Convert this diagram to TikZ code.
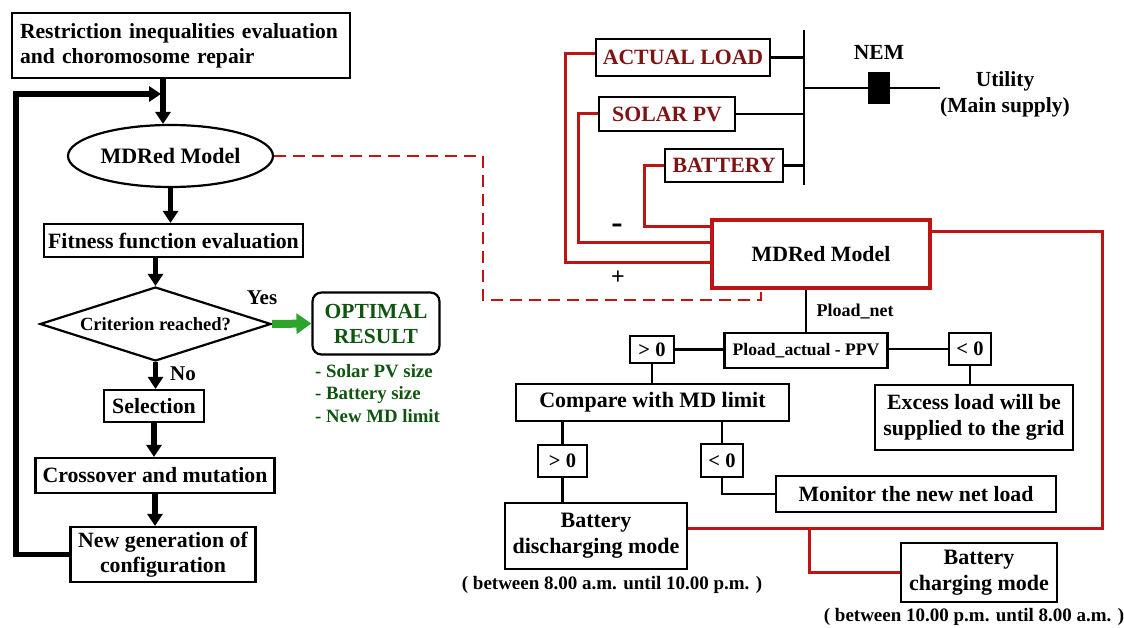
\documentclass[tikz,border=0pt]{standalone}
\usepackage{fontspec}
\setmainfont{Liberation Serif}
\usetikzlibrary{positioning, calc, arrows.meta, shapes.geometric}
\definecolor{mdred}{RGB}{190,20,20}
\definecolor{darkred}{RGB}{125,20,20}
\definecolor{optgreen}{RGB}{15,85,15}
\definecolor{arrgreen}{RGB}{45,165,45}
\newcommand{\fs}[2]{\bfseries\fontsize{#1}{#2}\selectfont}
\tikzset{box/.style={draw, line width=2.2pt, inner sep=2pt, align=center, font=\fs{21.8}{25}}}
\tikzset{redbox/.style={box, text=darkred}}
\tikzset{tag/.style={box, line width=2.4pt, font=\fs{20.5}{23}}}
\tikzset{flow/.style={line width=5.5pt, -{Triangle[length=12pt, width=15pt]}}}
\tikzset{garrow/.style={draw=arrgreen, line width=8pt, -{Triangle[length=15pt, width=20pt]}}}
\tikzset{wire/.style={line width=2.2pt}}
\tikzset{rline/.style={draw=mdred, line width=3pt}}
\tikzset{dline/.style={draw=mdred, line width=2.4pt, dash pattern=on 12pt off 7pt}}
\tikzset{note/.style={font=\fs{19}{22}}}

\begin{document}
\begin{tikzpicture}[x=1pt, y=-1pt]
  \useasboundingbox (0,0) rectangle (1124,628);

  \node[box, align=left, text width=322pt, inner xsep=8pt, minimum height=65pt, font=\fs{21.6}{25}] (rep) at (181,45.5)
    {Restriction inequalities evaluation\\and choromosome repair};
  \node[box, ellipse, minimum width=205pt, minimum height=62pt, inner sep=0pt, font=\fs{22}{25}] (mdl) at (170.5,156) {MDRed Model};
  \node[box, minimum width=259pt, minimum height=33pt] (fit) at (173.5,240.5) {Fitness function evaluation};
  \node[box, diamond, aspect=3.1, minimum width=231pt, minimum height=74pt, inner sep=0pt,
        font=\fs{18.6}{21}] (crit) at (155.5,324) {Criterion reached?};
  \node[box, rounded corners=9pt, text=optgreen, minimum width=127pt, minimum height=62pt,
        font=\fs{21.5}{25}] (opt) at (376,323.5) {OPTIMAL\\RESULT};
  \node[text=optgreen, align=left, anchor=north west, inner sep=0pt,
        font=\fs{18.8}{22.5}] (res) at (315,364)
    {- Solar PV size\\- Battery size\\- New MD limit};
  \node[box, minimum width=100pt, minimum height=32pt] (sel) at (154,406) {Selection};
  \node[box, minimum width=239pt, minimum height=35pt] (cro) at (155,475.5) {Crossover and mutation};
  \node[box, minimum width=185pt, minimum height=55pt] (gen) at (163,554.5) {New generation of\\configuration};
  \node[note, font=\fs{21}{24}] (yes) at (262,298) {Yes};
  \node[note, font=\fs{21}{24}] (no) at (183,374) {No};

  \coordinate (lp) at (16,94);
  \coordinate (jn) at (163,94);
  \draw[flow] (gen.west) -| (lp) -- ([xshift=-2pt]jn);
  \draw[flow] (jn |- rep.south) -- (jn |- mdl.north);
  \draw[flow] (mdl.south) -- (mdl.south |- fit.north);
  \draw[flow] (crit.north |- fit.south) -- (crit.north);
  \draw[flow] (crit.south) -- (crit.south |- sel.north);
  \draw[flow] (sel.south) -- (sel.south |- cro.north);
  \draw[flow] (cro.south) -- (cro.south |- gen.north);
  \draw[garrow] (crit.east) -- (opt.west);

  \node[redbox, minimum width=174pt, minimum height=37pt] (load) at (683,57.5) {ACTUAL LOAD};
  \node[redbox, minimum width=136pt, minimum height=34pt] (pv) at (667,114) {SOLAR PV};
  \node[redbox, minimum width=118pt, minimum height=33pt] (bat) at (724,165.5) {BATTERY};
  \node[draw, fill=black, minimum width=21pt, minimum height=31pt, inner sep=0pt] (nem) at (879,88) {};
  \node[note, font=\fs{21.5}{24}] (neml) at (879,52) {NEM};
  \node[note, align=center, font=\fs{21.5}{26}] (util) at (1005,94) {Utility\\(Main supply)};
  \node[box, draw=mdred, line width=3.5pt, minimum width=218pt, minimum height=68pt] (md) at (821,254) {MDRed Model};
  \node[note, font=\fs{34}{34}] (minus) at (617,229) {-};
  \node[note, font=\fs{24}{24}] (plus) at (618,278) {+};

  \coordinate (bt) at (804,30);
  \coordinate (bb) at (804,185);
  \coordinate (ut) at (940,88);
  \draw[wire] (bt) -- (bb);
  \draw[wire] (load.east) -- (load.east -| bt);
  \draw[wire] (pv.east) -- (pv.east -| bt);
  \draw[wire] (bat.east) -- (bat.east -| bt);
  \draw[wire] (nem.west -| bt) -- (nem.west);
  \draw[wire] (nem.east) -- (ut);

  \draw[rline] ([yshift=4pt]load.west) -- ++(-29,0) |- ([yshift=-9pt]md.west);
  \draw[rline] (pv.west) -- ++(-19,0) |- ([yshift=11pt]md.west);
  \draw[rline] (bat.west) -- ++(-19,0) |- ([yshift=27pt]md.west);

  \coordinate (dk) at (483,300);
  \draw[dline] (mdl.east) -| (dk) -| ([xshift=-60pt]md.south);

  \node[tag, minimum width=163pt, minimum height=35pt, font=\fs{17.6}{20}] (pa) at (806,350.5) {Pload\_actual - PPV};
  \node[anchor=west, font=\fs{18}{20}] (pnet) at (813,312) {Pload\_net};
  \node[tag, minimum width=44pt, minimum height=27pt] (gt1) at (652,349.5) {> 0};
  \node[tag, minimum width=42pt, minimum height=32pt] (lt1) at (970,349) {< 0};
  \node[tag, minimum width=273pt, minimum height=37pt, font=\fs{22}{25}] (cmp) at (652.5,402.5) {Compare with MD limit};
  \node[tag, minimum width=198pt, minimum height=65pt, font=\fs{21.8}{26}] (exc) at (974,417.5) {Excess load will be\\supplied to the grid};
  \node[tag, minimum width=49pt, minimum height=32pt] (gt2) at (562.5,461) {> 0};
  \node[tag, minimum width=42pt, minimum height=33pt] (lt2) at (722,460.5) {< 0};
  \node[tag, minimum width=280pt, minimum height=36pt, font=\fs{21.8}{25}] (mon) at (916,494) {Monitor the new net load};
  \node[tag, minimum width=182pt, minimum height=66pt, font=\fs{22}{26}] (dis) at (596,536) {Battery\\discharging mode};
  \node[tag, minimum width=156pt, minimum height=59pt, font=\fs{22}{26}] (chg) at (979,572.5) {Battery\\charging mode};
  \node[note, font=\fs{19}{22}] (dnote) at (612,585) {( between 8.00 a.m. until 10.00 p.m. )};
  \node[note, font=\fs{19}{22}] (cnote) at (974,617) {( between 10.00 p.m. until 8.00 a.m. )};

  \draw[wire] (pa.north |- md.south) -- (pa.north);
  \draw[wire] (gt1.east) -- (gt1.east -| pa.west);
  \draw[wire] (lt1.west -| pa.east) -- (lt1.west);
  \draw[wire] (gt1.south) -- (gt1.south |- cmp.north);
  \draw[wire] (lt1.south) -- (lt1.south |- exc.north);
  \draw[wire] (gt2.north |- cmp.south) -- (gt2.north);
  \draw[wire] (lt2.north |- cmp.south) -- (lt2.north);
  \draw[wire] (gt2.south) -- (gt2.south |- dis.north);
  \draw[wire] (lt2.south) |- (mon.west);

  \coordinate (rc) at (1102,528);
  \coordinate (br) at (809,528);
  \draw[rline] ([yshift=22pt]md.east) -| (rc) -- ([yshift=8pt]dis.east);
  \draw[rline] (br) |- (chg.west);
\end{tikzpicture}
\end{document}
